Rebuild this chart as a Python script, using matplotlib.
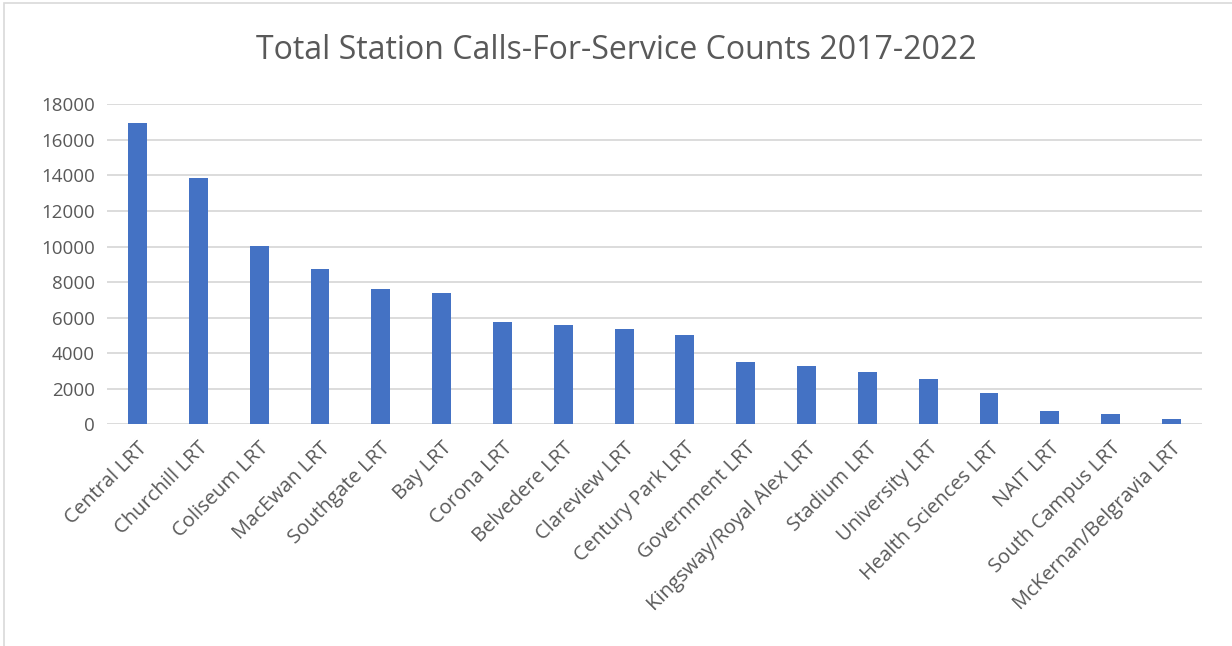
import matplotlib
matplotlib.use('Agg')
import matplotlib.pyplot as plt
from matplotlib.patches import Rectangle

# station call counts, 2017-2022
stations = ['Central LRT', 'Churchill LRT', 'Coliseum LRT', 'MacEwan LRT',
            'Southgate LRT', 'Bay LRT', 'Corona LRT', 'Belvedere LRT',
            'Clareview LRT', 'Century Park LRT', 'Government LRT',
            'Kingsway/Royal Alex LRT', 'Stadium LRT', 'University LRT',
            'Health Sciences LRT', 'NAIT LRT', 'South Campus LRT',
            'McKernan/Belgravia LRT']
counts = [16970, 13860, 10030, 8720, 7610, 7390, 5740, 5600,
          5360, 5010, 3510, 3260, 2930, 2530, 1760, 730, 600, 300]
yticks = list(range(0, 18001, 2000))

plt.rcParams['font.family'] = ['Open Sans', 'DejaVu Sans']
txt = '#595959'

fig = plt.figure(figsize=(12.32, 6.46), dpi=100)
ax = fig.add_axes([0.0869, 0.3432, 0.8887, 0.4953])

x = range(len(stations))
ax.bar(x, counts, width=0.31, color='#4472C4', zorder=3)

ax.set_xlim(-0.5, len(stations) - 0.5)
ax.set_ylim(0, 18000)
ax.set_yticks(yticks)
ax.set_yticklabels([str(v) for v in yticks], color=txt, fontsize=13.5)
ax.set_xticks(list(x))
ax.set_xticklabels(stations, rotation=45, ha='right', rotation_mode='anchor',
                   color=txt, fontsize=14.5)
ax.tick_params(axis='y', length=0, pad=9)
ax.tick_params(axis='x', length=0, pad=10)
ax.grid(axis='y', color='#d9d9d9', linewidth=1.3, zorder=0)
for s in ax.spines.values():
    s.set_visible(False)

fig.text(0.5, 0.922, 'Total Station Calls-For-Service Counts 2017-2022',
         ha='center', va='center', fontsize=23, color=txt)

# outer chart frame
fig.patches.append(Rectangle((0.003, -0.01), 1.2, 1.005, transform=fig.transFigure,
                             fill=False, edgecolor='#d9d9d9', linewidth=1.2))

fig.savefig('out.png', dpi=100)
